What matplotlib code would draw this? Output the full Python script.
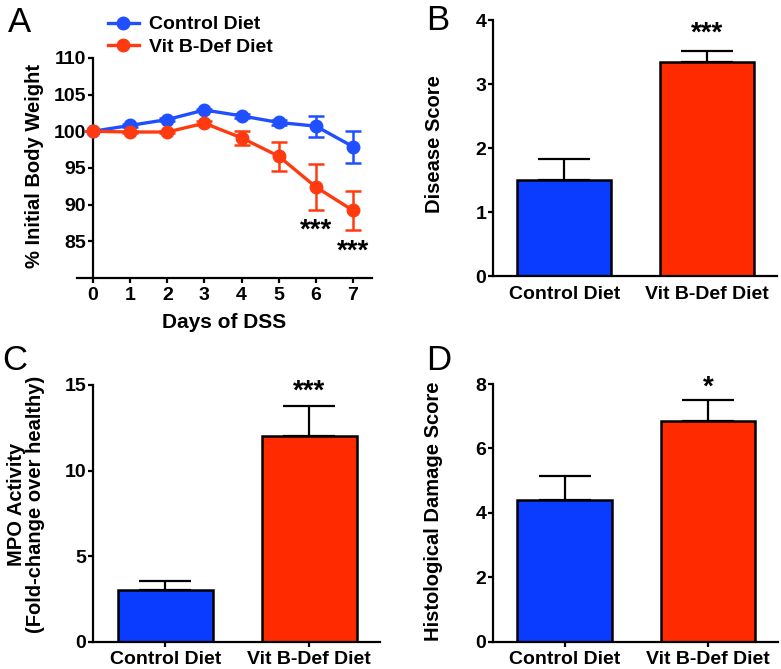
import matplotlib
matplotlib.use('Agg')
import matplotlib.pyplot as plt
from matplotlib.lines import Line2D
import numpy as np

plt.rcParams['font.family'] = ['Liberation Sans', 'DejaVu Sans']
plt.rcParams['font.weight'] = 'bold'
plt.rcParams['axes.linewidth'] = 1.6

## Panel A data: body weight over days of DSS
days = [0, 1, 2, 3, 4, 5, 6, 7]
control_weight = [100, 100.8, 101.6, 102.9, 102.1, 101.2, 100.7, 97.9]
control_err = [0, 0.2, 0.2, 0.2, 0.3, 0.3, 1.45, 2.2]
vitb_weight = [100, 99.9, 99.9, 101.1, 99.1, 96.6, 92.4, 89.2]
vitb_err = [0, 0.2, 0.2, 0.3, 1.0, 1.95, 3.1, 2.65]
sig_days = [6, 7]
sig_y = [86.4, 83.6]

## Bar panels
groups = ['Control Diet', 'Vit B-Def Diet']
disease_score = [1.5, 3.34]
disease_err = [0.33, 0.18]
mpo = [3.04, 12.04]
mpo_err = [0.5, 1.74]
histo = [4.40, 6.84]
histo_err = [0.75, 0.67]

blue = '#0a3cff'
red = '#ff2a00'
blue_line = '#1f4fff'
red_line = '#ff3a10'

fig = plt.figure(figsize=(7.81, 6.69), dpi=100)

def style_ax(ax):
    ax.spines['top'].set_visible(False)
    ax.spines['right'].set_visible(False)
    ax.tick_params(axis='both', width=1.6, length=3.8, labelsize=14)
    ax.tick_params(axis='y', pad=1)
    ax.tick_params(axis='x', pad=3)
    for t in ax.get_xticklabels() + ax.get_yticklabels():
        t.set_fontweight('bold')

## A
axA = fig.add_axes([0.0986, 0.5845, 0.3777, 0.3289])
x = np.array(days)
axA.errorbar(x, control_weight, yerr=control_err, color=blue_line, marker='o',
             markersize=9, linewidth=2.4, capsize=6, elinewidth=1.8, capthick=1.8,
             zorder=3, clip_on=False)
axA.errorbar(x, vitb_weight, yerr=vitb_err, color=red_line, marker='o',
             markersize=9, linewidth=2.4, capsize=6, elinewidth=1.8, capthick=1.8,
             zorder=4, clip_on=False)
for d, y in zip(sig_days, sig_y):
    axA.text(d, y, '***', ha='center', va='center', fontsize=20, fontweight='bold')
axA.set_xlim(-0.43, 7.51)
axA.set_ylim(80, 110)
axA.spines['left'].set_position(('data', 0))
axA.set_yticks([85, 90, 95, 100, 105, 110])
axA.set_xticks(days)
axA.set_xlabel('Days of DSS', fontsize=15, fontweight='bold', labelpad=6)
axA.set_ylabel('% Initial Body Weight', fontsize=14.5, fontweight='bold')
axA.yaxis.set_label_coords(-0.112, 0.51)
style_ax(axA)
handles = [Line2D([], [], color=blue_line, marker='o', markersize=9, linewidth=2.4),
           Line2D([], [], color=red_line, marker='o', markersize=9, linewidth=2.4)]
axA.legend(handles, ['Control Diet', 'Vit B-Def Diet'], loc='upper left',
           bbox_to_anchor=(98 / 781, 1 - 6 / 669),
           bbox_transform=fig.transFigure, frameon=False, fontsize=14,
           handlelength=1.6, handletextpad=0.5, labelspacing=0.25, borderpad=0)
fig.text(8 / 781, 1 - 32 / 669, 'A', fontsize=25, fontweight='normal')


def bar_panel(rect, values, errs, ylim, yticks, ylabel, label_xy, label_size,
              stars, star_y, letter, letter_pos, xticks=True):
    ax = fig.add_axes(rect)
    xpos = np.arange(len(groups))
    ax.bar(xpos, values, width=0.66, color=[blue, red], edgecolor='black',
           linewidth=1.8, zorder=2)
    ax.errorbar(xpos, values, yerr=[np.zeros(len(errs)), errs], fmt='none',
                ecolor='black', elinewidth=1.6, capsize=19, capthick=1.6, zorder=1)
    ax.text(1, star_y, stars, ha='center', va='center', fontsize=20, fontweight='bold')
    ax.set_xlim(-0.5, 1.49)
    ax.set_ylim(*ylim)
    ax.set_yticks(yticks)
    ax.set_xticks(xpos)
    ax.set_xticklabels(groups)
    ax.set_ylabel(ylabel, fontsize=label_size, fontweight='bold', linespacing=1.0)
    ax.yaxis.set_label_coords(*label_xy)
    style_ax(ax)
    if not xticks:
        ax.tick_params(axis='x', length=0, pad=7)
    fig.text(letter_pos[0] / 781, 1 - letter_pos[1] / 669, letter, fontsize=25,
             fontweight='normal')
    return ax

bar_panel([0.6312, 0.5874, 0.3636, 0.3827], disease_score, disease_err, (0, 4),
          [0, 1, 2, 3, 4], 'Disease Score', (-0.173, 0.517), 14.5,
          '***', 3.79, 'B', (426, 30), xticks=False)
bar_panel([0.1191, 0.0404, 0.3675, 0.3842], mpo, mpo_err, (0, 15),
          [0, 5, 10, 15], 'MPO Activity\n(Fold-change over healthy)', (-0.167, 0.535), 14.5,
          '***', 14.6, 'C', (2, 370))
bar_panel([0.6312, 0.0404, 0.3649, 0.3856], histo, histo_err, (0, 8),
          [0, 2, 4, 6, 8], 'Histological Damage Score', (-0.175, 0.505), 14.5,
          '*', 7.9, 'D', (426, 370))

fig.savefig('out.png', dpi=100)
